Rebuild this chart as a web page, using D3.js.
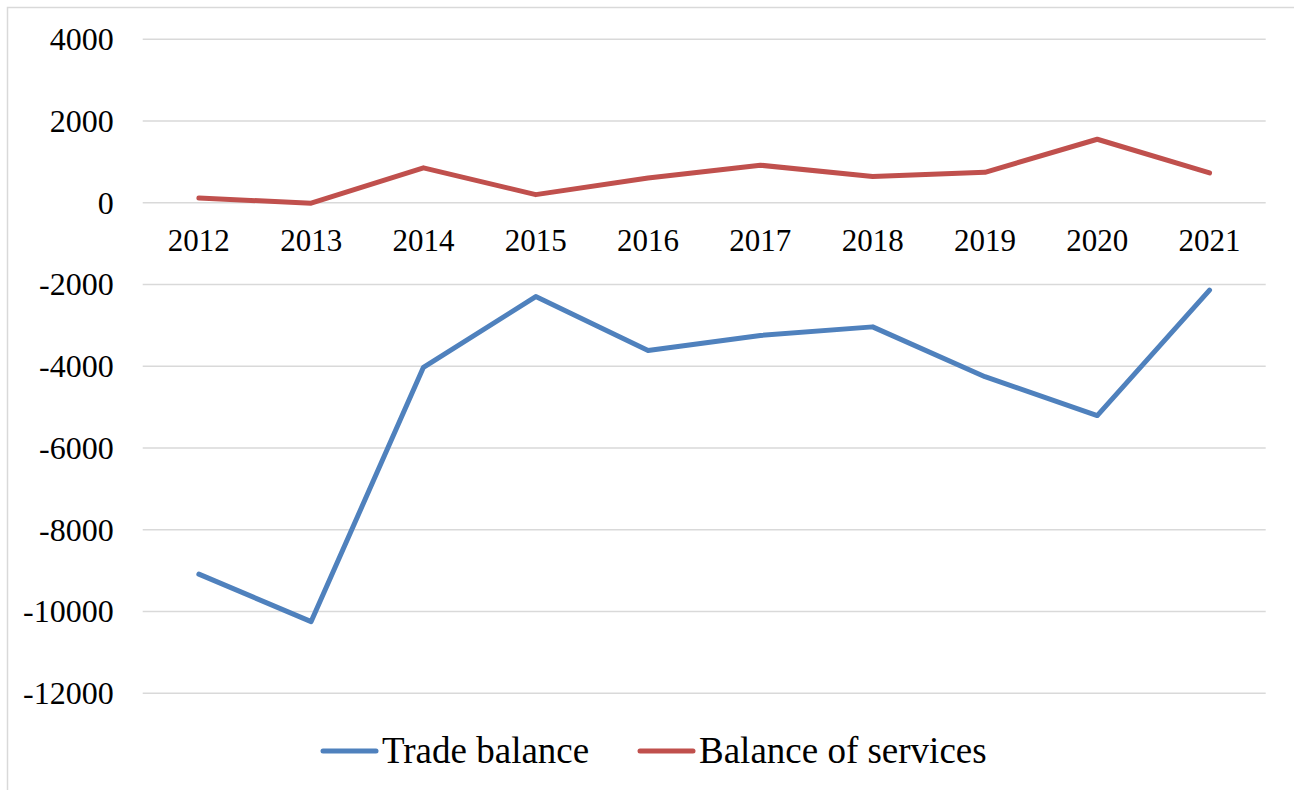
<!DOCTYPE html>
<html>
<head>
<meta charset="utf-8">
<script src="https://cdn.jsdelivr.net/npm/d3@7"></script>
<style>
  body { margin: 0; background: #fff; }
</style>
</head>
<body>
<svg id="chart" width="1294" height="790"></svg>
<script>
var YEARS = ['2012', '2013', '2014', '2015', '2016', '2017', '2018', '2019', '2020', '2021'];
var TRADE = [-9100, -10260, -4040, -2310, -3630, -3260, -3050, -4270, -5220, -2150];
var SERVICES = [100, -25, 840, 185, 590, 905, 626, 732, 1540, 716];
var Y_TICKS = [4000, 2000, 0, -2000, -4000, -6000, -8000, -10000, -12000];

var SERIES = [
  { name: 'Trade balance', values: TRADE, color: '#4f81bd' },
  { name: 'Balance of services', values: SERVICES, color: '#c0504d' }
];

var FONT = "'Liberation Serif', 'DejaVu Serif', serif";

var svg = d3.select('#chart');

// outer chart frame
svg.append('rect')
  .attr('x', 7.5).attr('y', 7.5)
  .attr('width', 1300).attr('height', 800)
  .attr('fill', 'none')
  .attr('stroke', '#d9d9d9')
  .attr('stroke-width', 1.5);

var x = d3.scaleBand().domain(YEARS).range([142.7, 1265.7]);
var y = d3.scaleLinear().domain([-12000, 4000]).range([692.7, 38.7]);

// gridlines + y labels (plain hyphen for negatives, like the original)
var yAxis = svg.append('g')
  .attr('transform', 'translate(142.7,0)')
  .call(d3.axisLeft(y).tickValues(Y_TICKS).tickSize(-1123).tickPadding(29)
    .tickFormat(function(d) { return String(d); }));
yAxis.attr('font-family', FONT).attr('font-size', 32);
yAxis.select('.domain').remove();
yAxis.selectAll('line').attr('stroke', '#d9d9d9').attr('stroke-width', 1.5);
yAxis.selectAll('text')
  .attr('fill', '#000')
  .attr('dy', '0.34em');

// category labels sit under the zero line
var xAxis = svg.append('g')
  .attr('transform', 'translate(0,' + y(0) + ')')
  .call(d3.axisBottom(x).tickSize(0).tickPadding(0));
xAxis.attr('font-family', FONT).attr('font-size', 31);
xAxis.select('.domain').remove();
xAxis.selectAll('text')
  .attr('fill', '#000')
  .attr('y', 49)
  .attr('dy', 0);

var line = d3.line()
  .x(function(d, i) { return x(YEARS[i]) + x.bandwidth() / 2; })
  .y(function(d) { return y(d); });

svg.selectAll('.series').data(SERIES).enter().append('path')
  .attr('class', 'series')
  .attr('d', function(d) { return line(d.values); })
  .attr('fill', 'none')
  .attr('stroke', function(d) { return d.color; })
  .attr('stroke-width', 5)
  .attr('stroke-linecap', 'round')
  .attr('stroke-linejoin', 'round');

// legend
var legendX = [323, 640];
var legend = svg.selectAll('.legend').data(SERIES).enter().append('g')
  .attr('class', 'legend')
  .attr('transform', function(d, i) { return 'translate(' + legendX[i] + ',751)'; });

legend.append('line')
  .attr('x1', 0).attr('x2', 53)
  .attr('stroke', function(d) { return d.color; })
  .attr('stroke-width', 5)
  .attr('stroke-linecap', 'round');

legend.append('text')
  .attr('x', 59)
  .attr('y', 12)
  .attr('font-family', FONT)
  .attr('font-size', 37)
  .text(function(d) { return d.name; });
</script>
</body>
</html>
